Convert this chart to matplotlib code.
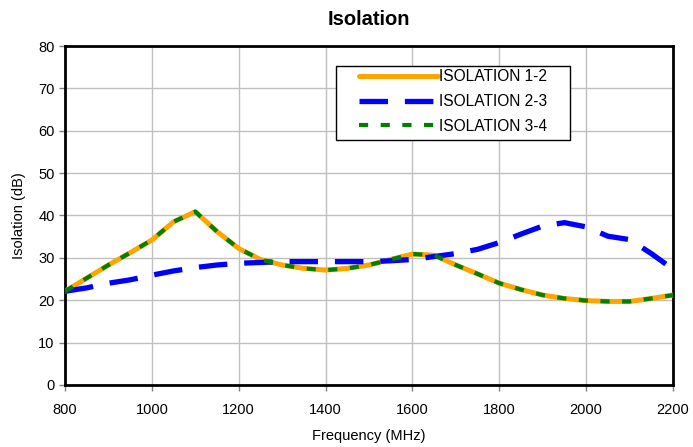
import numpy as np
import matplotlib.pyplot as plt
from matplotlib.patches import Rectangle

plt.rcParams["font.family"] = ["Liberation Sans", "DejaVu Sans"]

freq = [800, 850, 900, 950, 1000, 1050, 1100, 1150, 1200, 1250, 1300, 1350, 1400, 1450,
        1500, 1550, 1600, 1650, 1700, 1750, 1800, 1850, 1900, 1950, 2000, 2050, 2100, 2150, 2200]

iso_12 = [22.1, 25.2, 28.3, 31.2, 34.2, 38.5, 40.9, 36.2, 32.2, 29.6, 28.3, 27.5, 27.1, 27.5,
          28.3, 29.6, 30.9, 30.6, 28.3, 26.2, 24.0, 22.5, 21.2, 20.4, 19.9, 19.7, 19.7, 20.4, 21.2]

iso_23 = [22.1, 22.9, 24.0, 24.8, 25.9, 26.9, 27.7, 28.3, 28.7, 28.9, 29.1, 29.1, 29.1, 29.1,
          29.1, 29.3, 29.6, 30.3, 31.0, 32.0, 33.6, 35.6, 37.5, 38.3, 37.3, 35.1, 34.3, 31.0, 27.3]

iso_34 = iso_12  # same measured curve as 1-2

fig = plt.figure(figsize=(6.93, 4.47), dpi=100)
ax = fig.add_axes([0.0938, 0.139, 0.8774, 0.758])

ax.plot(freq, iso_12, color="#ffa500", linewidth=3.6, solid_capstyle="round",
        label="ISOLATION 1-2", zorder=3)
ax.plot(freq, iso_23, color="#0000ff", linewidth=3.8, linestyle=(0, (5.4, 3.2)),
        label="ISOLATION 2-3", zorder=4)
ax.plot(freq, iso_34, color="#008000", linewidth=3.0, linestyle=(0, (2.2, 3.0)),
        label="ISOLATION 3-4", zorder=5)

ax.set_xlim(800, 2200)
ax.set_ylim(0, 80)
ax.set_xticks(np.arange(800, 2201, 200))
ax.set_yticks(np.arange(0, 81, 10))
ax.grid(True, color="#c0c0c0", linewidth=1)
ax.set_axisbelow(True)
for s in ax.spines.values():
    s.set_linewidth(2)
    s.set_color("black")
ax.tick_params(direction="out", length=4, width=1, color="#808080", labelsize=10.5)
ax.tick_params(axis="x", pad=9)

ax.set_title("Isolation", fontsize=14.5, fontweight="bold", pad=15)
ax.set_xlabel("Frequency (MHz)", fontsize=10.5, labelpad=9)
ax.set_ylabel("Isolation (dB)", fontsize=10.5, labelpad=9)

leg = ax.legend(loc="upper left", bbox_to_anchor=(0.462, 0.97), fontsize=11.2,
                handlelength=5.1, handletextpad=0.05, borderpad=0.35, labelspacing=0.62,
                frameon=False)
ax.add_patch(Rectangle((0.446, 0.723), 0.385, 0.218, transform=ax.transAxes,
                       facecolor="white", edgecolor="black", linewidth=1, zorder=6))
leg.set_zorder(7)

fig.savefig("out.png", dpi=100)
